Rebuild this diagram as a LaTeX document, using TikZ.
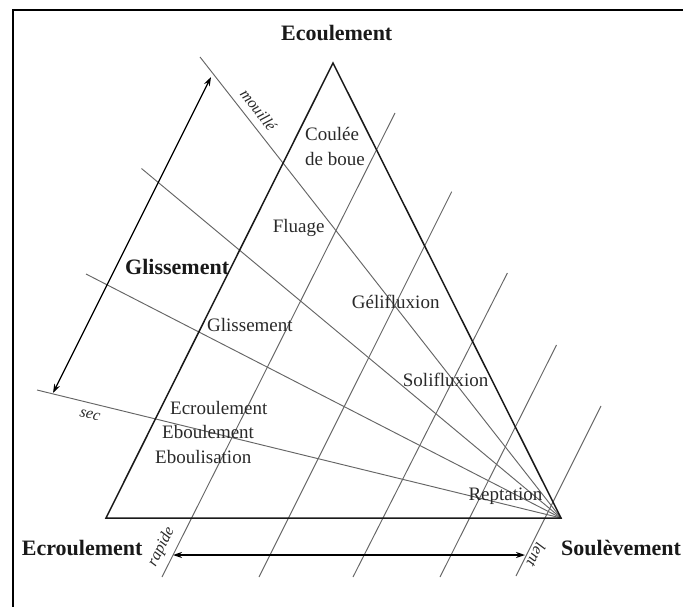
\documentclass[tikz,border=0pt]{standalone}
\usepackage{fontspec}
\setmainfont{Liberation Serif}
\usetikzlibrary{arrows.meta}
\definecolor{gridgray}{gray}{0.40}
\definecolor{txt}{gray}{0.16}
\begin{document}
\begin{tikzpicture}[x=1pt,y=-1pt,
  frame/.style={draw=black, line width=2pt},
  tri/.style={draw=black!90, line width=1.5pt, line join=miter},
  gridline/.style={draw=gridgray, line width=0.95pt},
  dbl/.style={draw=black, line width=1.3pt, {Stealth[length=9pt,width=6pt]}-{Stealth[length=9pt,width=6pt]}},
  lbl/.style={inner sep=0pt, text=txt, font=\fontsize{19}{25}\selectfont, anchor=base west},
  big/.style={inner sep=0pt, text=black!90, font=\bfseries\fontsize{22}{26}\selectfont, anchor=base west},
  axislbl/.style={inner sep=0pt, text=txt, font=\itshape\fontsize{16}{18}\selectfont}]
\useasboundingbox (0,0) rectangle (683,607);
\clip (0,0) rectangle (683,607);
% frame
\coordinate (f1) at (12.5,620);
\coordinate (f2) at (12.5,10);
\coordinate (f3) at (700,10);
\draw[frame] (f1) -- (f2) -- (f3);
% triangle vertices
\coordinate (T) at (333,63);
\coordinate (L) at (106,518);
\coordinate (R) at (561,518);
% fan lines
\coordinate (m1) at (200,57);
\coordinate (m2) at (141.5,168.5);
\coordinate (m3) at (86,274);
\coordinate (m4) at (37,390);
\foreach \p in {m1,m2,m3,m4} \draw[gridline] (\p) -- (R);
% parallel lines
\coordinate (a1) at (162,577); \coordinate (a2) at (395,113);
\coordinate (b1) at (259,577); \coordinate (b2) at (451.7,191.7);
\coordinate (c1) at (353,577); \coordinate (c2) at (507.4,273);
\coordinate (d1) at (440,577); \coordinate (d2) at (556.5,345);
\coordinate (e1) at (516,576); \coordinate (e2) at (601,406);
\foreach \p in {a,b,c,d,e} \draw[gridline] (\p1) -- (\p2);
% triangle
\draw[tri] (T) -- (R) -- (L) -- cycle;
% arrows
\coordinate (g1) at (53,393);
\coordinate (g2) at (211,77);
\draw[dbl] (g1) -- (g2);
\coordinate (h1) at (173,555);
\coordinate (h2) at (525,555);
\draw[dbl] (h1) -- (h2);
% axis labels
\node[axislbl, rotate=-52] (mouille) at (258.5,110) {mouillé};
\node[axislbl, rotate=-14] (sec) at (90,415) {sec};
\node[axislbl, rotate=63.4] (rapide) at (161.5,547) {rapide};
\node[axislbl, rotate=-116.6] (lent) at (536.5,555) {lent};
% big labels
\node[big, anchor=base] (top) at (336.7,40.5) {Ecoulement};
\node[big] (gl) at (125,274) {Glissement};
\node[big] (ecr) at (21.7,555.6) {Ecroulement};
\node[big] (sou) at (561,555.6) {Soulèvement};
% inner labels
\node[lbl, align=left, anchor=north west] (coulee) at (305,127.5) {Coulée\\de boue};
\node[lbl] (fluage) at (272.7,232) {Fluage};
\node[lbl] (gliss) at (207,331.5) {Glissement};
\node[lbl] (geli) at (351.7,308) {Gélifluxion};
\node[lbl] (soli) at (402.7,386.3) {Solifluxion};
\node[lbl] (rept) at (468.3,500) {Reptation};
\node[lbl] (ecr2) at (170,414.6) {Ecroulement};
\node[lbl] (ebou) at (162,438.6) {Eboulement};
\node[lbl] (ebol) at (155,463) {Eboulisation};
\end{tikzpicture}
\end{document}
